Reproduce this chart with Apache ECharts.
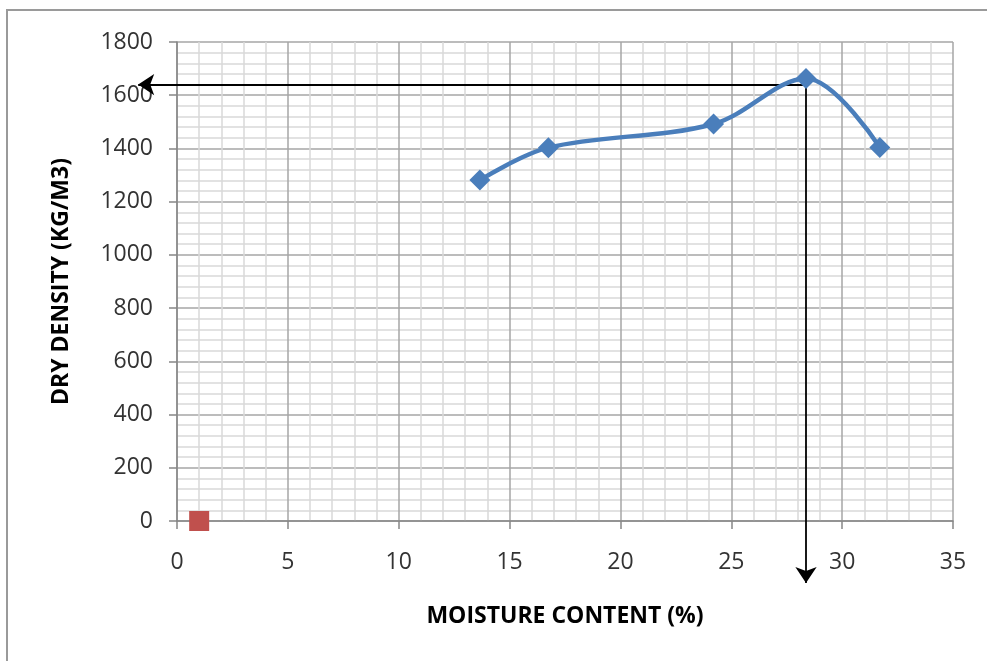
<!DOCTYPE html>
<html>
<head>
<meta charset="utf-8">
<script src="https://cdn.jsdelivr.net/npm/echarts@6/dist/echarts.min.js"></script>
<style>html,body{margin:0;padding:0;background:#fff}#c{width:987px;height:661px}</style>
</head>
<body>
<div id="c"></div>
<script>
// Data
const moisture = [13.66, 16.75, 24.2, 28.37, 31.7];
const density = [1281, 1403, 1492, 1663, 1404];
const redPoint = [[1, 0]];
const peakMoisture = 28.37;
const maxDryDensity = 1640;
const xTicks = [0, 5, 10, 15, 20, 25, 30, 35];
const yTicks = [0, 200, 400, 600, 800, 1000, 1200, 1400, 1600, 1800];
const xTitle = 'MOISTURE CONTENT (%)';
const yTitle = 'DRY DENSITY (KG/M3)';

const chart = echarts.init(document.getElementById('c'), null, {renderer: 'canvas'});
const labelFont = '"Open Sans", sans-serif';
const majorColor = '#a6a6a6';
const minorColor = '#d9d9d9';

chart.setOption({
  animation: false,
  backgroundColor: '#fff',
  grid: {left: 177, top: 42, right: 34, bottom: 140, containLabel: false},
  graphic: [{
    type: 'rect', z: 100,
    shape: {x: 7, y: 10, width: 1000, height: 700},
    style: {fill: 'none', stroke: '#9a9a9a', lineWidth: 2}
  }],
  xAxis: {
    type: 'value', min: xTicks[0], max: xTicks[xTicks.length - 1], interval: 5,
    name: xTitle, nameLocation: 'middle', nameGap: 84,
    nameTextStyle: {fontFamily: labelFont, fontWeight: 'bold', fontSize: 23, color: '#000'},
    axisLine: {show: true, onZero: false, lineStyle: {color: '#868686', width: 1.5}},
    axisTick: {show: true, length: 8, lineStyle: {color: '#868686', width: 1.5}},
    minorTick: {show: false, splitNumber: 5},
    splitLine: {show: true, lineStyle: {color: majorColor, width: 1.5}},
    minorSplitLine: {show: true, lineStyle: {color: minorColor, width: 1.5}},
    axisLabel: {margin: 30, fontFamily: labelFont, fontSize: 23, color: '#333'}
  },
  yAxis: {
    type: 'value', min: yTicks[0], max: yTicks[yTicks.length - 1], interval: 200,
    name: yTitle, nameLocation: 'middle', nameGap: 104, nameRotate: 90,
    nameTextStyle: {fontFamily: labelFont, fontWeight: 'bold', fontSize: 23, color: '#000'},
    axisLine: {show: true, lineStyle: {color: '#868686', width: 1.5}},
    axisTick: {show: true, length: 8, lineStyle: {color: '#868686', width: 1.5}},
    minorTick: {show: false, splitNumber: 5},
    splitLine: {show: true, lineStyle: {color: majorColor, width: 1.5}},
    minorSplitLine: {show: true, lineStyle: {color: minorColor, width: 1.5}},
    axisLabel: {margin: 24, fontFamily: labelFont, fontSize: 23, color: '#333', formatter: v => String(v)}
  },
  series: [
    {
      type: 'lines', coordinateSystem: 'cartesian2d', clip: false, z: 3,
      polyline: false, silent: true,
      symbol: ['none', 'arrow'], symbolSize: [14, 16],
      lineStyle: {color: '#000', width: 1.8, opacity: 1},
      data: [
        {coords: [[peakMoisture, maxDryDensity], [-1.75, maxDryDensity]]},
        {coords: [[peakMoisture, maxDryDensity], [peakMoisture, -233]]}
      ]
    },
    {
      type: 'line', smooth: 0.35, z: 4,
      data: moisture.map((m, i) => [m, density[i]]),
      symbol: 'diamond', symbolSize: 21, showSymbol: true,
      lineStyle: {color: '#4A7EBB', width: 4.5},
      itemStyle: {color: '#4A7EBB'}
    },
    {
      type: 'scatter', z: 4,
      data: redPoint,
      symbol: 'rect', symbolSize: 20,
      itemStyle: {color: '#C0504D', opacity: 1}
    }
  ]
});
</script>
</body>
</html>
